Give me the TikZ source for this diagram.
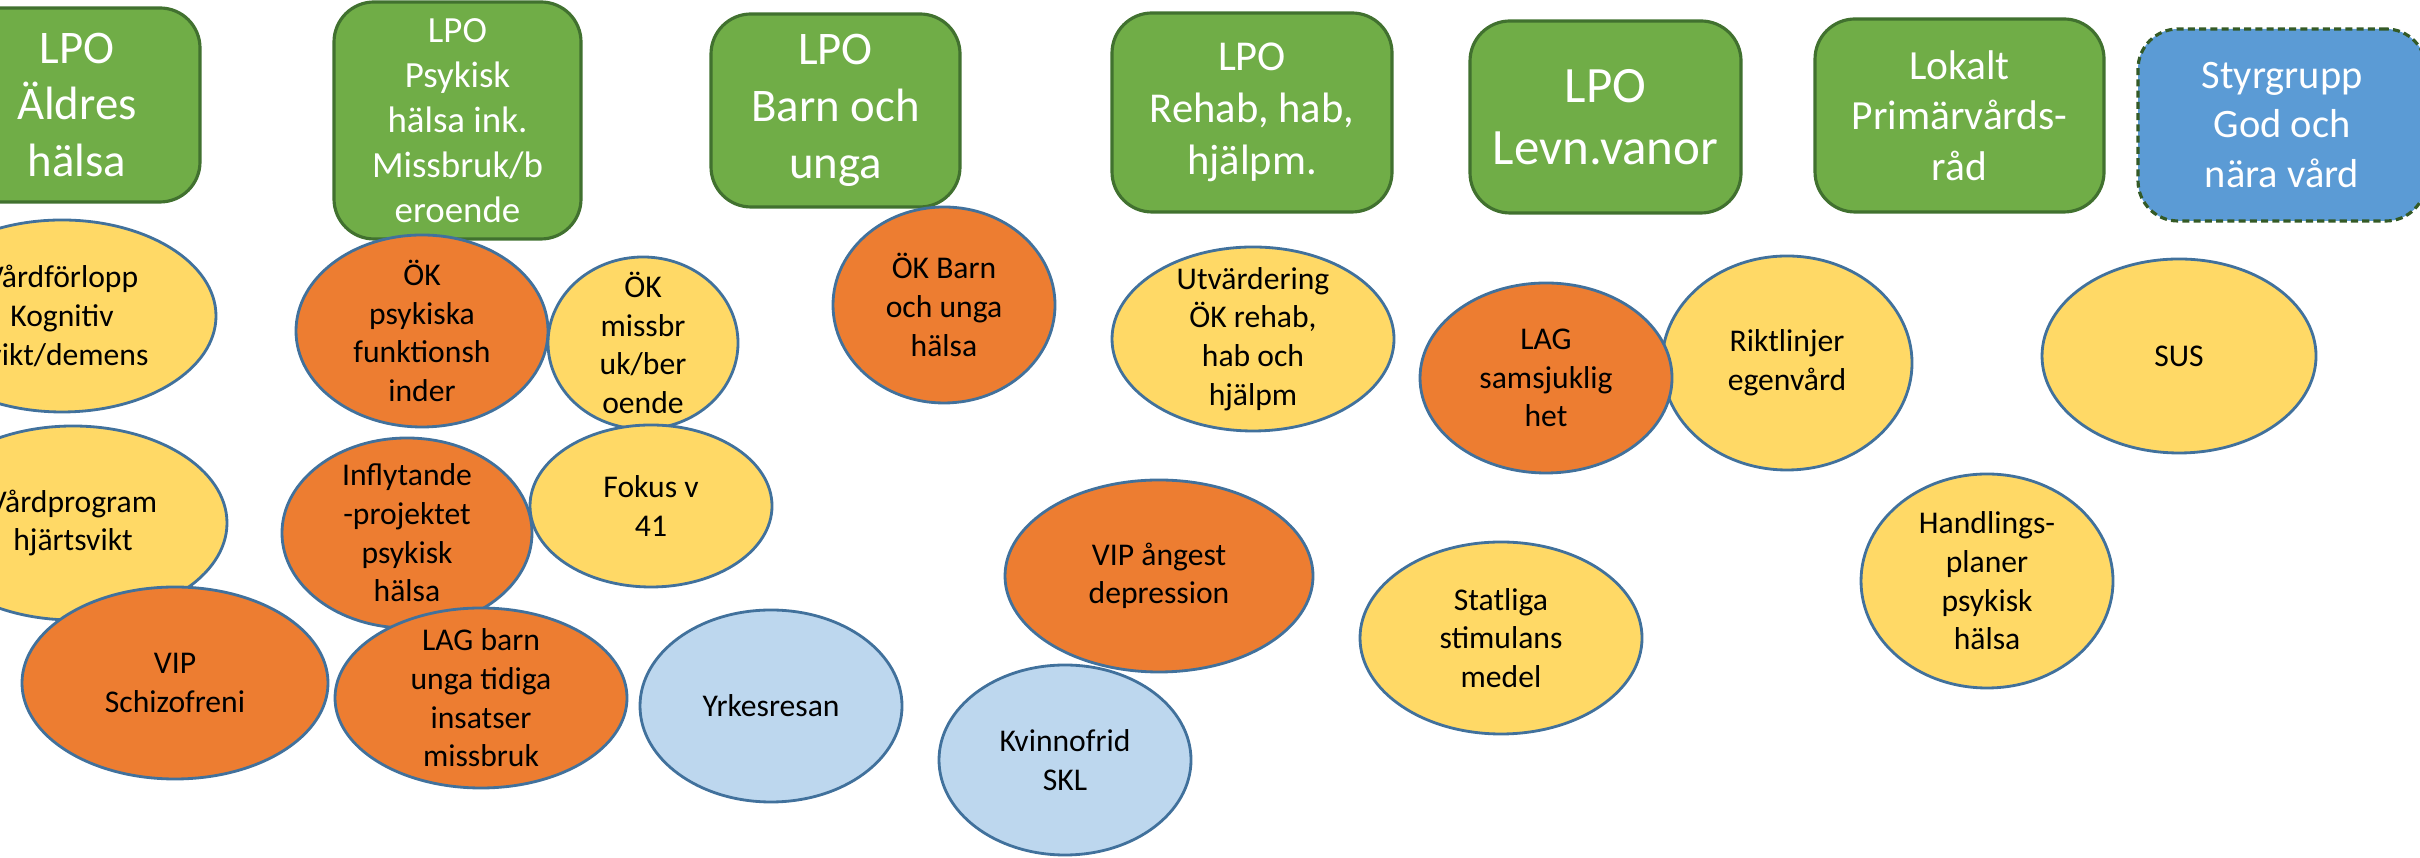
\documentclass[tikz,border=0pt]{standalone}
\usepackage{fontspec}
\setmainfont{Carlito}
\definecolor{lpogreen}{HTML}{70AD47}
\definecolor{lpoedge}{HTML}{41712F}
\definecolor{styrblue}{HTML}{5B9BD5}
\definecolor{okorange}{HTML}{ED7D31}
\definecolor{okyellow}{HTML}{FFD966}
\definecolor{okblue}{HTML}{BDD7EE}
\definecolor{ringblue}{HTML}{41719C}
\tikzset{
  lpo/.style={draw=lpoedge, line width=0.9pt, fill=lpogreen, rounded corners=0.4cm,
    text=white, align=center, inner sep=0pt},
  blob/.style={draw=ringblue, line width=0.8pt},
  ink/.style={align=center, inner sep=0pt, font=\fontsize{9}{11}\selectfont}
}

\begin{document}
\begin{tikzpicture}
\useasboundingbox (0,0) rectangle (24.2,8.58);
\clip (0,0) rectangle (24.2,8.58);

\node[lpo, minimum width=2.46cm, minimum height=1.94cm, font=\fontsize{13.3}{16.2}\selectfont] (aldres) at (0.77,7.53) {LPO\\Äldres\\hälsa};
\node[lpo, minimum width=2.47cm, minimum height=2.37cm, font=\fontsize{10.5}{12.8}\selectfont] (psykisk) at (4.575,7.375) {LPO\\Psykisk\\hälsa ink.\\Missbruk/b\\eroende};
\node[lpo, minimum width=2.49cm, minimum height=1.93cm, font=\fontsize{13.3}{16.2}\selectfont] (barn) at (8.355,7.475) {LPO\\Barn och\\unga};
\node[lpo, minimum width=2.80cm, minimum height=1.99cm, font=\fontsize{12.1}{14.8}\selectfont] (rehab) at (12.52,7.455) {LPO\\Rehab, hab,\\hjälpm.};
\node[lpo, minimum width=2.71cm, minimum height=1.92cm, font=\fontsize{14.5}{17.6}\selectfont] (levn) at (16.055,7.41) {LPO\\Levn.vanor};
\node[lpo, minimum width=2.89cm, minimum height=1.93cm, font=\fontsize{11.8}{14.4}\selectfont] (lokalt) at (19.595,7.425) {Lokalt\\Primärvårds-\\råd};
\node[lpo, fill=styrblue, draw=lpoedge!80!black, dash pattern=on 2pt off 1.2pt, minimum width=2.88cm, minimum height=1.92cm, font=\fontsize{11.5}{14.1}\selectfont] (styr) at (22.82,7.33) {Styrgrupp\\God och\\nära vård};

\draw[blob, fill=okyellow] (0.62,5.42) ellipse (1.54 and 0.96);
\node[ink] (vardforlopp) at (0.62,5.42) {Vårdförlopp\\Kognitiv\\svikt/demens};
\draw[blob, fill=okorange] (4.22,5.27) ellipse (1.26 and 0.96);
\node[ink] (okpsyk) at (4.22,5.27) {ÖK\\psykiska\\funktionsh\\inder};
\draw[blob, fill=okyellow] (6.43,5.15) ellipse (0.95 and 0.86);
\node[ink] (okmiss) at (6.43,5.15) {ÖK\\missbr\\uk/ber\\oende};
\draw[blob, fill=okorange] (9.44,5.53) ellipse (1.11 and 0.98);
\node[ink] (okbarn) at (9.44,5.53) {ÖK Barn\\och unga\\hälsa};
\draw[blob, fill=okyellow] (12.53,5.19) ellipse (1.41 and 0.92);
\node[ink] (utvard) at (12.53,5.19) {Utvärdering\\ÖK rehab,\\hab och\\hjälpm};
\draw[blob, fill=okyellow] (17.87,4.95) ellipse (1.25 and 1.07);
\node[ink] (riktl) at (17.87,4.95) {Riktlinjer\\egenvård};
\draw[blob, fill=okorange] (15.46,4.80) ellipse (1.26 and 0.95);
\node[ink] (lagsam) at (15.46,4.80) {LAG\\samsjuklig\\het};
\draw[blob, fill=okyellow] (21.79,5.02) ellipse (1.37 and 0.97);
\node[ink] (sus) at (21.79,5.02) {SUS};

\draw[blob, fill=okyellow] (0.73,3.35) ellipse (1.54 and 0.97);
\node[ink] (vardprog) at (0.73,3.35) {Vårdprogram\\hjärtsvikt};
\draw[blob, fill=okorange] (4.07,3.25) ellipse (1.25 and 0.95);
\node[ink] (inflyt) at (4.07,3.25) {Inflytande\\-projektet\\psykisk\\hälsa};
\draw[blob, fill=okyellow] (6.51,3.52) ellipse (1.21 and 0.81);
\node[ink] (fokus) at (6.51,3.52) {Fokus v\\41};
\draw[blob, fill=okorange] (1.75,1.75) ellipse (1.53 and 0.96);
\node[ink] (vipschiz) at (1.75,1.75) {VIP\\Schizofreni};
\draw[blob, fill=okorange] (4.81,1.60) ellipse (1.46 and 0.90);
\node[ink] (lagbarn) at (4.81,1.60) {LAG barn\\unga tidiga\\insatser\\missbruk};
\draw[blob, fill=okblue] (7.71,1.52) ellipse (1.31 and 0.96);
\node[ink] (yrkes) at (7.71,1.52) {Yrkesresan};
\draw[blob, fill=okorange] (11.59,2.82) ellipse (1.54 and 0.96);
\node[ink] (vipang) at (11.59,2.82) {VIP ångest\\depression};
\draw[blob, fill=okblue] (10.65,0.98) ellipse (1.26 and 0.95);
\node[ink] (kvinno) at (10.65,0.98) {Kvinnofrid\\SKL};
\draw[blob, fill=okyellow] (15.01,2.20) ellipse (1.41 and 0.96);
\node[ink] (statl) at (15.01,2.20) {Statliga\\stimulans\\medel};
\draw[blob, fill=okyellow] (19.87,2.77) ellipse (1.26 and 1.07);
\node[ink] (handl) at (19.87,2.77) {Handlings-\\planer\\psykisk\\hälsa};
\end{tikzpicture}
\end{document}
